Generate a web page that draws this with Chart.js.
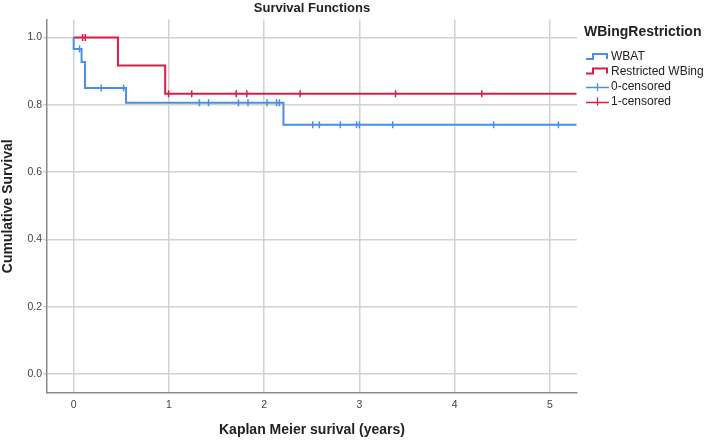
<!DOCTYPE html>
<html>
<head>
<meta charset="utf-8">
<script src="https://cdn.jsdelivr.net/npm/chart.js@4.4.1/dist/chart.umd.min.js"></script>
<style>
  html, body { margin: 0; padding: 0; background: #ffffff; }
  #wrap { width: 709px; height: 441px; }
</style>
</head>
<body>
<div id="wrap"><canvas id="c" width="709" height="441"></canvas></div>
<script>
// ---- data ----
const xTicks = [0, 1, 2, 3, 4, 5];
const yTicks = [0.0, 0.2, 0.4, 0.6, 0.8, 1.0];

// WBAT (event steps)
const wbatTimes = [0, 0, 0.083, 0.119, 0.55, 2.203, 5.28];
const wbatSurv  = [1.0, 0.966, 0.927, 0.85, 0.806, 0.741, 0.741];
// WBAT censored
const wbatCensorTimes = [0.062, 0.29, 0.524, 1.32, 1.416, 1.73, 1.83, 2.03, 2.13, 2.16, 2.51, 2.58, 2.80, 2.97, 3.0, 3.35, 4.41, 5.09];
const wbatCensorSurv  = [0.966, 0.85, 0.85, 0.806, 0.806, 0.806, 0.806, 0.806, 0.806, 0.806, 0.741, 0.741, 0.741, 0.741, 0.741, 0.741, 0.741, 0.741];

// Restricted WBing (event steps)
const restTimes = [0, 0.465, 0.961, 5.28];
const restSurv  = [1.0, 0.917, 0.833, 0.833];
// Restricted censored
const restCensorTimes = [0.094, 0.122, 0.996, 1.24, 1.707, 1.818, 2.378, 3.38, 4.285];
const restCensorSurv  = [1.0, 1.0, 0.833, 0.833, 0.833, 0.833, 0.833, 0.833, 0.833];

const legendLabels = ['WBAT', 'Restricted WBing', '0-censored', '1-censored'];

// ---- styles ----
const BLUE = '#4a8fe2';
const RED = '#d81f47';
const FONT = "'Liberation Sans', Arial, sans-serif";

const pts = (xs, ys) => xs.map((x, i) => ({ x: x, y: ys[i] }));

const bgPlugin = {
  id: 'bg',
  beforeDraw(chart) {
    const ctx = chart.ctx;
    ctx.save();
    ctx.fillStyle = '#ffffff';
    ctx.fillRect(0, 0, chart.width, chart.height);
    ctx.restore();
  }
};

const legendPlugin = {
  id: 'kmLegend',
  afterDraw(chart) {
    const ctx = chart.ctx;
    ctx.save();
    ctx.textBaseline = 'middle';
    ctx.textAlign = 'left';
    ctx.fillStyle = '#222222';
    ctx.font = 'bold 14px ' + FONT;
    ctx.fillText('WBingRestriction', 584, 32);
    ctx.font = '12px ' + FONT;
    const x0 = 586, x1 = 609, tx = 611;
    const rows = [57, 71.5, 87, 101.5];
    // step icons
    [[BLUE, rows[0]], [RED, rows[1]]].forEach(([col, y]) => {
      ctx.strokeStyle = col;
      ctx.lineWidth = 2;
      ctx.beginPath();
      ctx.moveTo(x0, y + 2);
      ctx.lineTo(593, y + 2);
      ctx.lineTo(593, y - 3);
      ctx.lineTo(607, y - 3);
      ctx.lineTo(607, y + 2);
      ctx.stroke();
    });
    // cross icons
    [[BLUE, rows[2]], [RED, rows[3]]].forEach(([col, y]) => {
      ctx.strokeStyle = col;
      ctx.lineWidth = 1.3;
      ctx.beginPath();
      ctx.moveTo(x0, Math.round(y) + 0.5);
      ctx.lineTo(x1, Math.round(y) + 0.5);
      ctx.moveTo(597.5, y - 4);
      ctx.lineTo(597.5, y + 4);
      ctx.stroke();
    });
    ctx.fillStyle = '#222222';
    legendLabels.forEach((t, i) => ctx.fillText(t, tx, rows[i]));
    ctx.restore();
  }
};

new Chart(document.getElementById('c'), {
  type: 'line',
  data: {
    datasets: [
      {
        label: legendLabels[0],
        data: pts(wbatTimes, wbatSurv),
        borderColor: BLUE,
        borderWidth: 2,
        stepped: 'before',
        pointRadius: 0,
        fill: false
      },
      {
        label: legendLabels[1],
        data: pts(restTimes, restSurv),
        borderColor: RED,
        borderWidth: 2,
        stepped: 'before',
        pointRadius: 0,
        fill: false
      },
      {
        label: legendLabels[2],
        data: pts(wbatCensorTimes, wbatCensorSurv),
        showLine: false,
        pointStyle: 'line',
        rotation: 90,
        pointRadius: 3.5,
        pointBorderWidth: 1.5,
        pointBorderColor: BLUE,
        pointBackgroundColor: BLUE,
        borderColor: BLUE
      },
      {
        label: legendLabels[3],
        data: pts(restCensorTimes, restCensorSurv),
        showLine: false,
        pointStyle: 'line',
        rotation: 90,
        pointRadius: 3.5,
        pointBorderWidth: 1.5,
        pointBorderColor: RED,
        pointBackgroundColor: RED,
        borderColor: RED
      }
    ]
  },
  options: {
    responsive: false,
    devicePixelRatio: 1,
    animation: false,
    layout: { padding: { left: 0, right: 132, top: 0, bottom: 0 } },
    plugins: {
      legend: { display: false },
      tooltip: { enabled: false },
      title: {
        display: true,
        text: 'Survival Functions',
        fullSize: false,
        color: '#222222',
        font: { family: FONT, size: 13, weight: 'bold' },
        padding: { top: 1, bottom: 3 }
      }
    },
    scales: {
      x: {
        type: 'linear',
        min: -0.28,
        max: 5.285,
        afterFit(scale) { scale.height = 48; },
        afterBuildTicks(scale) { scale.ticks = xTicks.map(v => ({ value: v })); },
        grid: { color: '#d2d2d2', lineWidth: 1.5, drawTicks: false },
        border: { color: '#8a8a8a', width: 1.5 },
        ticks: {
          color: '#444444',
          font: { family: FONT, size: 10.5 },
          padding: 6,
          maxRotation: 0,
          callback: v => String(v)
        },
        title: {
          display: true,
          text: 'Kaplan Meier surival (years)',
          color: '#222222',
          font: { family: FONT, size: 14, weight: 'bold' },
          padding: { top: 0, bottom: 2 }
        }
      },
      y: {
        type: 'linear',
        min: -0.056,
        max: 1.053,
        afterFit(scale) { scale.width = 47; },
        afterBuildTicks(scale) { scale.ticks = yTicks.map(v => ({ value: v })); },
        grid: { color: '#d2d2d2', lineWidth: 1.5, tickLength: 4 },
        border: { color: '#8a8a8a', width: 1.5 },
        ticks: {
          color: '#444444',
          font: { family: FONT, size: 10.5 },
          padding: 1,
          callback: v => Number(v).toFixed(1)
        },
        title: {
          display: true,
          text: 'Cumulative Survival',
          color: '#222222',
          font: { family: FONT, size: 14, weight: 'bold' },
          padding: { top: 0, bottom: 0 }
        }
      }
    }
  },
  plugins: [bgPlugin, legendPlugin]
});
</script>
</body>
</html>
